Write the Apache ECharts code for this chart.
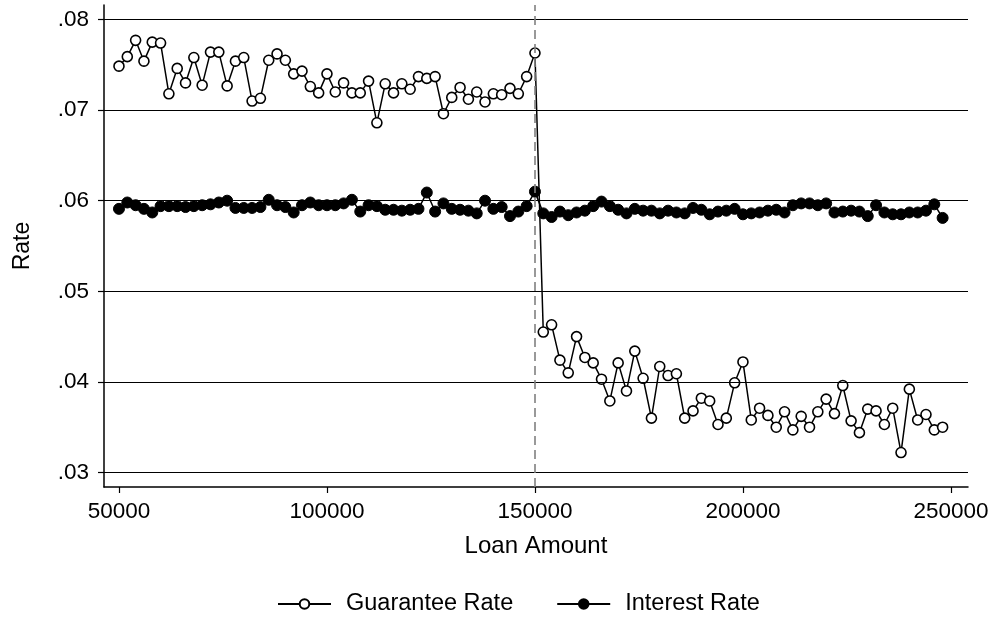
<!DOCTYPE html>
<html>
<head>
<meta charset="utf-8">
<script src="https://cdn.jsdelivr.net/npm/echarts@6/dist/echarts.min.js"></script>
<style>
html,body{margin:0;padding:0;background:#fff;}
#chart{width:995px;height:621px;}
</style>
</head>
<body>
<div id="chart"></div>
<script>
var loanAmounts = [50000,52000,54000,56000,58000,60000,62000,64000,66000,68000,
70000,72000,74000,76000,78000,80000,82000,84000,86000,88000,
90000,92000,94000,96000,98000,100000,102000,104000,106000,108000,
110000,112000,114000,116000,118000,120000,122000,124000,126000,128000,
130000,132000,134000,136000,138000,140000,142000,144000,146000,148000,
150000,152000,154000,156000,158000,160000,162000,164000,166000,168000,
170000,172000,174000,176000,178000,180000,182000,184000,186000,188000,
190000,192000,194000,196000,198000,200000,202000,204000,206000,208000,
210000,212000,214000,216000,218000,220000,222000,224000,226000,228000,
230000,232000,234000,236000,238000,240000,242000,244000,246000,248000];

var guaranteeRate = [.07485,.0759,.0777,.0754,.0775,.0774,.0718,.0746,.0730,.0758,
.07275,.0764,.0764,.07267,.0754,.0758,.0710,.0713,.0755,.0762,
.0755,.0740,.0743,.0726,.0719,.0740,.0720,.0730,.0719,.0719,
.0732,.0686,.0729,.0719,.0729,.0723,.0737,.0735,.0737,.0696,
.0714,.0725,.0712,.0720,.0709,.0718,.0717,.0724,.0718,.0737,
.0763,.0455,.0463,.0424,.0410,.0450,.0427,.0421,.0403,.0379,
.0421,.0390,.0434,.0404,.0360,.0417,.0407,.0409,.0360,.0368,
.0382,.0379,.0353,.0360,.0399,.0422,.0358,.0371,.0363,.0350,
.0367,.0347,.0362,.0350,.0367,.0381,.0365,.0396,.0357,.0344,
.0370,.0368,.0353,.0371,.0322,.0392,.0358,.0364,.0347,.0350];

var interestRate = [.0591,.0598,.0595,.0591,.0587,.0594,.0594,.0594,.0593,.0594,
.0595,.0596,.0598,.0600,.0592,.0592,.0592,.0593,.0601,.0595,
.0593,.0587,.0595,.0598,.0595,.0595,.0595,.0597,.0601,.0588,
.0595,.0594,.0590,.0590,.0589,.0590,.0591,.0609,.0588,.0597,
.0591,.0590,.0589,.0586,.0600,.0591,.0593,.0583,.0588,.0594,
.0610,.0586,.0582,.0588,.0584,.0587,.0589,.0594,.0599,.0594,
.0590,.0586,.0591,.0589,.0589,.0586,.0589,.0587,.0586,.0592,
.0590,.0585,.0588,.0589,.0591,.0585,.0586,.0587,.0589,.0590,
.0587,.0595,.0597,.0597,.0595,.0597,.0587,.0588,.0589,.0588,
.0583,.0595,.0587,.0585,.0585,.0587,.0587,.0589,.0596,.0581];

var xTicks = [50000,100000,150000,200000,250000];
var yTicks = [0.03,0.04,0.05,0.06,0.07,0.08];
var cutoff = 150000;

function pairs(ys){ return loanAmounts.map(function(x,i){ return [x, ys[i]]; }); }

var font = 'Liberation Sans, Arial, Helvetica, sans-serif';
var chart = echarts.init(document.getElementById('chart'), null, {renderer:'canvas'});
chart.setOption({
  animation:false,
  backgroundColor:'#fff',
  grid:{left:104,right:27,top:5,bottom:134,containLabel:false},
  legend:{
    bottom:0, left:272,
    itemWidth:53, itemHeight:12, itemGap:43,
    textStyle:{fontFamily:font,fontSize:23.5,color:'#000',padding:[0,0,0,10]},
    data:['Guarantee Rate','Interest Rate']
  },
  xAxis:{
    type:'value', min:46400, max:254100,
    name:'Loan Amount', nameLocation:'middle', nameGap:47,
    nameTextStyle:{fontFamily:font,fontSize:24,color:'#000'},
    axisLine:{show:true,lineStyle:{color:'#000',width:1.5}},
    axisTick:{show:true,length:6,customValues:xTicks,lineStyle:{color:'#000',width:1.2}},
    axisLabel:{customValues:xTicks,fontFamily:font,fontSize:22.5,color:'#000',margin:13,
      formatter:function(v){return String(Math.round(v));}},
    splitLine:{show:false}
  },
  yAxis:{
    type:'value', min:0.0284, max:0.0816,
    name:'Rate', nameLocation:'middle', nameGap:70, nameRotate:90,
    nameTextStyle:{fontFamily:font,fontSize:23,color:'#000'},
    axisLine:{show:true,lineStyle:{color:'#000',width:1.5}},
    axisTick:{show:true,length:6,customValues:yTicks,lineStyle:{color:'#000',width:1.2}},
    axisLabel:{customValues:yTicks,fontFamily:font,fontSize:22.5,color:'#000',margin:15,
      formatter:function(v){return v.toFixed(2).replace(/^0/,'');}},
    splitLine:{show:false}
  },
  series:[
    {
      name:'grid', type:'line', data:[], z:1, silent:true,
      markLine:{silent:true,symbol:'none',label:{show:false},
        lineStyle:{color:'#000',width:1,type:'solid'},
        data:yTicks.map(function(v){return {yAxis:v};})}
    },
    {
      name:'cut', type:'line', data:[], z:2, silent:true,
      markLine:{silent:true,symbol:'none',label:{show:false},
        lineStyle:{color:'#808080',width:1.6,type:[9,5]},
        data:[{xAxis:cutoff}]}
    },
    {
      name:'Guarantee Rate', type:'line', data:pairs(guaranteeRate), z:4,
      symbol:'circle', symbolSize:10, showAllSymbol:true,
      lineStyle:{color:'#000',width:1.5},
      itemStyle:{color:'#fff',borderColor:'#000',borderWidth:1.6}
    },
    {
      name:'Interest Rate', type:'line', data:pairs(interestRate), z:3,
      symbol:'circle', symbolSize:11, showAllSymbol:true,
      lineStyle:{color:'#000',width:1.5},
      itemStyle:{color:'#000',borderColor:'#000',borderWidth:1}
    }
  ]
});
</script>
</body>
</html>
